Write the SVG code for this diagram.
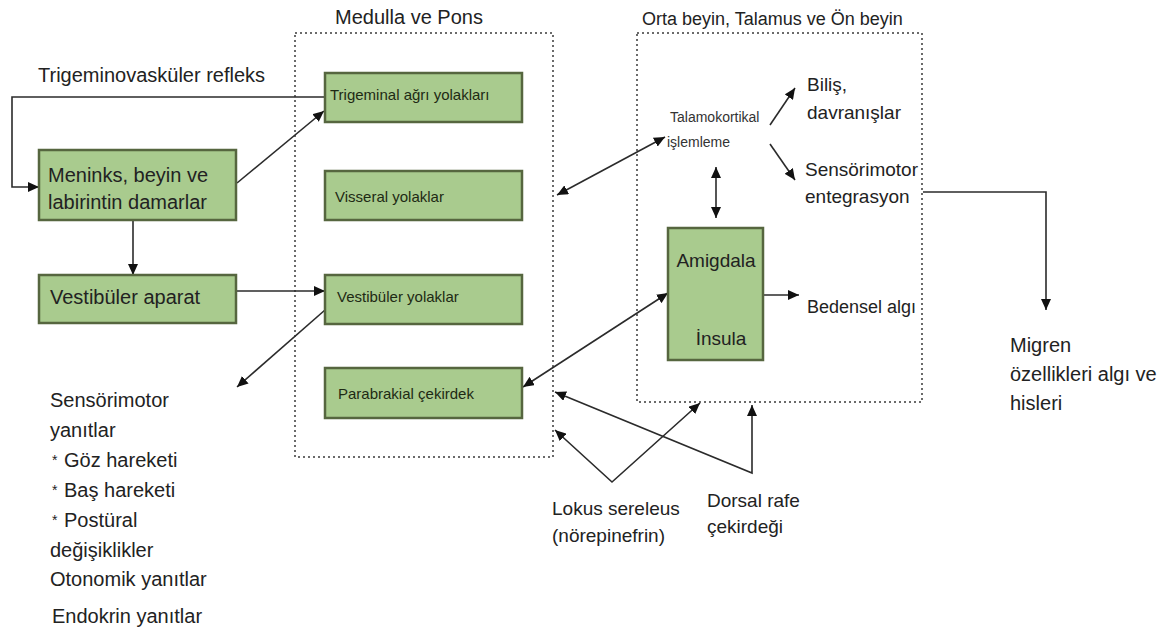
<svg xmlns="http://www.w3.org/2000/svg" width="1163" height="635" viewBox="0 0 1163 635">
<style>
  text { font-family: "Liberation Sans", Arial, sans-serif; fill: #222; }
  .t20 { font-size: 20px; }
  .t19 { font-size: 19px; }
  .t18 { font-size: 18px; }
  .sm { font-size: 15px; fill: #1e2a14; }
  .tiny { font-size: 14px; fill: #333; }
  .gbox { fill: #a9cb8e; stroke: #56663f; stroke-width: 2.5; }
  .dot { fill: none; stroke: #6a6a6a; stroke-width: 2; stroke-dasharray: 2 3; }
  .ln { fill: none; stroke: #2b2b2b; stroke-width: 1.6; }
  .one { marker-end: url(#ah); }
  .two { marker-start: url(#ah); marker-end: url(#ah); }
</style>
<defs>
  <marker id="ah" markerUnits="userSpaceOnUse" markerWidth="12" markerHeight="10" refX="11" refY="5" orient="auto-start-reverse">
    <path d="M0,0 L11,5 L0,10 z" fill="#111"/>
  </marker>
</defs>
<rect width="1163" height="635" fill="#fff"/>

<g id="medulla-group">
  <rect class="dot" x="295" y="33" width="258" height="424"/>
  <text class="t20" x="409" y="24" text-anchor="middle">Medulla ve Pons</text>
</g>
<g id="orta-group">
  <rect class="dot" x="637" y="33" width="285" height="369"/>
  <text class="t18" x="642" y="25">Orta beyin, Talamus ve Ön beyin</text>
</g>

<g id="connectors">
  <path class="ln one" d="M325,97 H12 V187 H39"/>
  <path class="ln one" d="M237,183 L324,111"/>
  <path class="ln one" d="M133,220 V275"/>
  <path class="ln one" d="M237,291 H325"/>
  <path class="ln one" d="M325,310 L237,387"/>
  <path class="ln two" d="M557,195 L665,137"/>
  <path class="ln one" d="M770,125 L795,88"/>
  <path class="ln one" d="M770,144 L795,180"/>
  <path class="ln two" d="M716,167 V218"/>
  <path class="ln two" d="M716,273 V323"/>
  <path class="ln one" d="M763,295 H799"/>
  <path class="ln one" d="M923,192 H1046 V310"/>
  <path class="ln two" d="M523,387 L668,293"/>
  <path class="ln two" d="M555,392 L752,473 L752,405"/>
  <path class="ln two" d="M555,430 L612,482 L700,403"/>
</g>

<g id="trigeminovaskuler-label">
  <text class="t20" x="38" y="82">Trigeminovasküler refleks</text>
</g>

<g id="meninks">
  <rect class="gbox" x="39" y="150" width="197" height="70"/>
  <text class="t20" x="48" y="182">Meninks, beyin ve</text>
  <text class="t20" x="48" y="209">labirintin damarlar</text>
</g>
<g id="vestibuler-aparat">
  <rect class="gbox" x="39" y="275" width="197" height="48"/>
  <text class="t20" x="50" y="304">Vestibüler aparat</text>
</g>

<g id="trigeminal">
  <rect class="gbox" x="325" y="73" width="197" height="49"/>
  <text class="sm" x="330" y="100">Trigeminal ağrı yolakları</text>
</g>
<g id="visseral">
  <rect class="gbox" x="325" y="171" width="197" height="49"/>
  <text class="sm" x="335" y="202">Visseral yolaklar</text>
</g>
<g id="vestibuler-yolaklar">
  <rect class="gbox" x="325" y="275" width="197" height="49"/>
  <text class="sm" x="337" y="302">Vestibüler yolaklar</text>
</g>
<g id="parabrakial">
  <rect class="gbox" x="325" y="368" width="197" height="50"/>
  <text class="sm" x="338" y="399">Parabrakial çekirdek</text>
</g>

<g id="sensorimotor-yanitlar">
  <text class="t20" x="50" y="407">Sensörimotor</text>
  <text class="t20" x="50" y="437">yanıtlar</text>
  <text x="52" y="465" font-size="14">*</text>
  <text class="t20" x="64" y="467">Göz hareketi</text>
  <text x="52" y="495" font-size="14">*</text>
  <text class="t20" x="64" y="497">Baş hareketi</text>
  <text x="52" y="525" font-size="14">*</text>
  <text class="t20" x="64" y="527">Postüral</text>
  <text class="t20" x="50" y="557">değişiklikler</text>
  <text class="t20" x="50" y="586">Otonomik yanıtlar</text>
  <text class="t20" x="52" y="623">Endokrin yanıtlar</text>
</g>

<g id="talamokortikal">
  <text class="tiny" x="670" y="122">Talamokortikal</text>
  <text class="tiny" x="667" y="147">işlemleme</text>
</g>
<g id="bilis">
  <text class="t19" x="807" y="91">Biliş,</text>
  <text class="t19" x="807" y="119">davranışlar</text>
</g>
<g id="sensorimotor-entegrasyon">
  <text class="t19" x="805" y="176">Sensörimotor</text>
  <text class="t19" x="805" y="203">entegrasyon</text>
</g>
<g id="amigdala-insula">
  <rect class="gbox" x="668" y="228" width="95" height="132"/>
  <text class="t19" x="716" y="267" text-anchor="middle">Amigdala</text>
  <text class="t19" x="721" y="345" text-anchor="middle">İnsula</text>
</g>
<g id="bedensel">
  <text class="t18" x="807" y="313">Bedensel algı</text>
</g>
<g id="migren">
  <text class="t20" x="1010" y="352">Migren</text>
  <text class="t20" x="1010" y="381">özellikleri algı ve</text>
  <text class="t20" x="1010" y="410">hisleri</text>
</g>
<g id="lokus">
  <text class="t19" x="552" y="515">Lokus sereleus</text>
  <text class="t19" x="552" y="542">(nörepinefrin)</text>
</g>
<g id="dorsal">
  <text class="t19" x="707" y="507">Dorsal rafe</text>
  <text class="t19" x="707" y="533">çekirdeği</text>
</g>
</svg>
